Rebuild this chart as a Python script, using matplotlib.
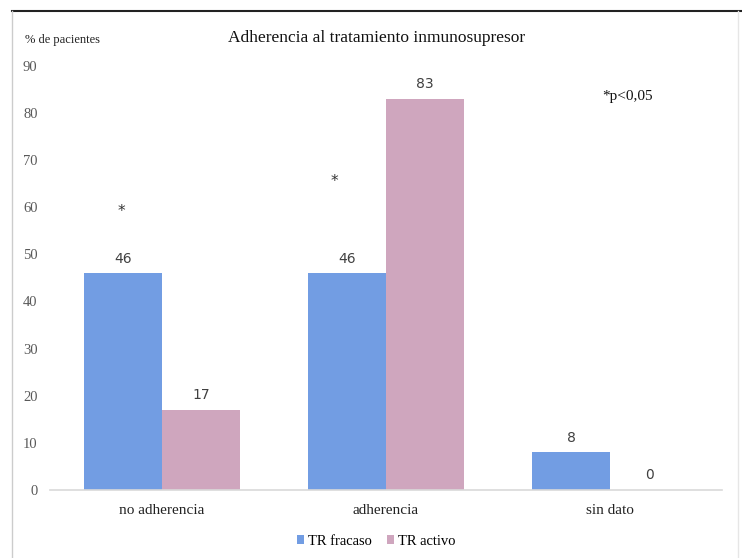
import matplotlib.pyplot as plt
from matplotlib.lines import Line2D
import numpy as np

categorias = ["no adherencia", "adherencia", "sin dato"]
tr_fracaso = [46, 46, 8]
tr_activo = [17, 83, 0]
series = ["TR fracaso", "TR activo"]
# asteriscos de significacion (x en unidades de categoria, y en %)
estrellas_x = [-0.18, 0.77]
estrellas_y = [59, 65.5]

azul = "#729de3"
rosa = "#cfa6be"
serif = ["Liberation Serif", "DejaVu Serif"]

fig = plt.figure(figsize=(7.42, 5.58), dpi=100)
ax = fig.add_axes([0.0674, 0.1219, 0.9057, 0.760])

x = np.arange(len(categorias))
w = 0.348
b1 = ax.bar(x - w / 2, tr_fracaso, w, color=azul, label=series[0])
b2 = ax.bar(x + w / 2, tr_activo, w, color=rosa, label=series[1])

for bars, vals in ((b1, tr_fracaso), (b2, tr_activo)):
    for r, v in zip(bars, vals):
        ax.text(r.get_x() + r.get_width() / 2, v + 1.6, str(v), ha="center",
                va="bottom", fontsize=10, color="#404040", family="DejaVu Sans")

for sx, sy in zip(estrellas_x, estrellas_y):
    ax.text(sx, sy, "*", ha="center", va="center", fontsize=11, color="#333333")
ax.text(2.08, 83.4, "*p<0,05", ha="center", va="center", fontsize=11,
        family=serif, color="#111111")

ax.set_xlim(-0.5, 2.5)
ax.set_ylim(0, 90)
ax.set_yticks(range(0, 91, 10))
ax.set_xticks(x)
ax.set_xticklabels(categorias, family=serif, fontsize=11, color="#222222")
for lab in ax.get_yticklabels():
    lab.set_family(serif)
    lab.set_fontsize(10.5)
    lab.set_color("#595959")
ax.tick_params(axis="both", length=0)
ax.tick_params(axis="y", pad=9)
ax.tick_params(axis="x", pad=10)
for s in ["top", "right", "left"]:
    ax.spines[s].set_visible(False)
ax.spines["bottom"].set_color("#d9d9d9")
ax.spines["bottom"].set_linewidth(1.2)

fig.text(0.507, 0.932, "Adherencia al tratamiento inmunosupresor", ha="center",
         va="center", fontsize=12.5, family=serif, color="#111111")
fig.text(0.034, 0.928, "% de pacientes", ha="left", va="center", fontsize=9,
         family=serif, color="#222222")

leg = fig.legend(handles=[b1, b2], labels=series, loc="center",
                 bbox_to_anchor=(0.507, 0.030), ncol=2, frameon=False,
                 prop={"family": serif, "size": 10.5}, handlelength=0.5,
                 handleheight=0.5, handletextpad=0.3, columnspacing=1.0)

# marco de la figura
fig.add_artist(Line2D([12 / 742, 1], [1 - 11 / 558, 1 - 11 / 558],
                      transform=fig.transFigure, color="#222222", lw=1.5))
fig.add_artist(Line2D([12 / 742, 12 / 742], [0, 1 - 11 / 558],
                      transform=fig.transFigure, color="#cccccc", lw=1.0))
fig.add_artist(Line2D([738 / 742, 738 / 742], [0, 1 - 11 / 558],
                      transform=fig.transFigure, color="#e6e6e6", lw=1.0))

fig.savefig("out.png", dpi=100)
